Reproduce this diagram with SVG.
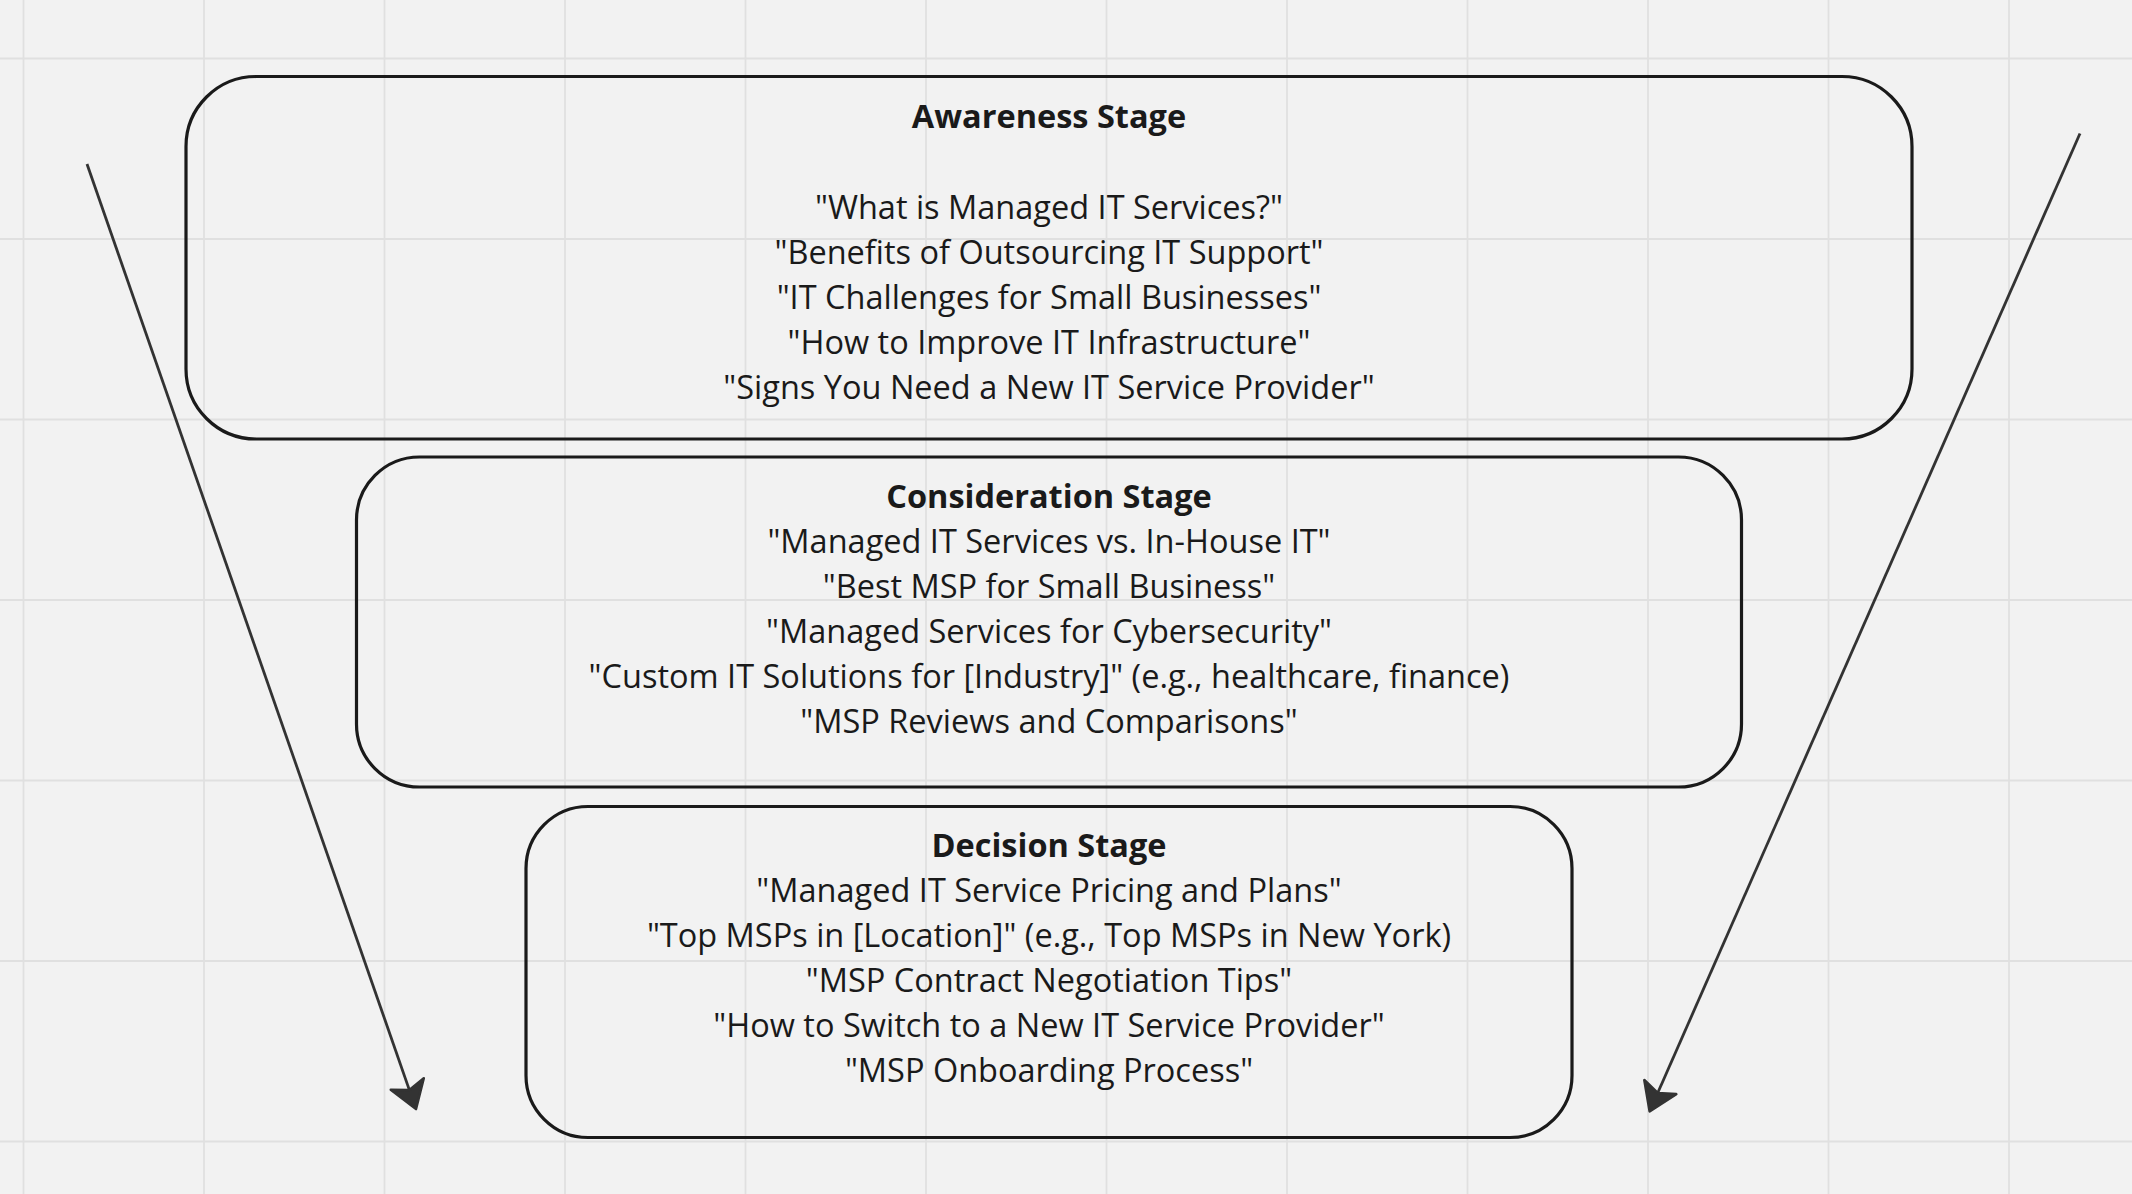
<svg xmlns="http://www.w3.org/2000/svg" width="2132" height="1194" viewBox="0 0 2132 1194">
<style>
  .grid line { stroke: #e0e0e0; stroke-width: 1.8; }
  .box { fill: none; stroke: #1a1a1a; stroke-width: 3.2; }
  .t { font-family: "Open Sans", "Liberation Sans", sans-serif; font-size: 32.5px; fill: #1a1a1a; text-anchor: middle; }
  .h { font-weight: 700; }
  .conn { stroke: #333333; stroke-width: 2.8; fill: none; marker-end: url(#arrow); }
</style>
<defs>
  <marker id="arrow" markerUnits="userSpaceOnUse" markerWidth="44" markerHeight="44" viewBox="-3 -17 26 34" refX="5" refY="0" orient="auto">
    <path d="M20.5,0 L0,-13.5 L5,0 L0,13.5 Z" fill="#333333" stroke="#333333" stroke-width="2" stroke-linejoin="round"/>
  </marker>
</defs>
<rect x="0" y="0" width="2132" height="1194" fill="#f2f2f2"/>
<g class="grid">
  <line x1="23.5" y1="0" x2="23.5" y2="1194"/>
  <line x1="204" y1="0" x2="204" y2="1194"/>
  <line x1="384.5" y1="0" x2="384.5" y2="1194"/>
  <line x1="565" y1="0" x2="565" y2="1194"/>
  <line x1="745.5" y1="0" x2="745.5" y2="1194"/>
  <line x1="926" y1="0" x2="926" y2="1194"/>
  <line x1="1106.5" y1="0" x2="1106.5" y2="1194"/>
  <line x1="1287" y1="0" x2="1287" y2="1194"/>
  <line x1="1467.5" y1="0" x2="1467.5" y2="1194"/>
  <line x1="1648" y1="0" x2="1648" y2="1194"/>
  <line x1="1828.5" y1="0" x2="1828.5" y2="1194"/>
  <line x1="2009" y1="0" x2="2009" y2="1194"/>
  <line x1="0" y1="58.5" x2="2132" y2="58.5"/>
  <line x1="0" y1="239" x2="2132" y2="239"/>
  <line x1="0" y1="419.5" x2="2132" y2="419.5"/>
  <line x1="0" y1="600" x2="2132" y2="600"/>
  <line x1="0" y1="780.5" x2="2132" y2="780.5"/>
  <line x1="0" y1="961" x2="2132" y2="961"/>
  <line x1="0" y1="1141.5" x2="2132" y2="1141.5"/>
</g>
<g id="awareness">
  <rect class="box" x="186" y="76.5" width="1726" height="362.5" rx="70" ry="70"/>
  <text class="t h" x="1049" y="127.5">Awareness Stage</text>
  <text class="t" x="1049" y="218.5">"What is Managed IT Services?"</text>
  <text class="t" x="1049" y="263.5">"Benefits of Outsourcing IT Support"</text>
  <text class="t" x="1049" y="308.5">"IT Challenges for Small Businesses"</text>
  <text class="t" x="1049" y="353.5">"How to Improve IT Infrastructure"</text>
  <text class="t" x="1049" y="398.5">"Signs You Need a New IT Service Provider"</text>
</g>
<g id="consideration">
  <rect class="box" x="356.5" y="457" width="1385" height="330" rx="63" ry="63"/>
  <text class="t h" x="1049" y="507.5">Consideration Stage</text>
  <text class="t" x="1049" y="552.5">"Managed IT Services vs. In-House IT"</text>
  <text class="t" x="1049" y="597.5">"Best MSP for Small Business"</text>
  <text class="t" x="1049" y="642.5">"Managed Services for Cybersecurity"</text>
  <text class="t" x="1049" y="687.5">"Custom IT Solutions for [Industry]" (e.g., healthcare, finance)</text>
  <text class="t" x="1049" y="732.5">"MSP Reviews and Comparisons"</text>
</g>
<g id="decision">
  <rect class="box" x="526" y="806.5" width="1046" height="331" rx="62" ry="62"/>
  <text class="t h" x="1049" y="856.5">Decision Stage</text>
  <text class="t" x="1049" y="901.5">"Managed IT Service Pricing and Plans"</text>
  <text class="t" x="1049" y="946.5">"Top MSPs in [Location]" (e.g., Top MSPs in New York)</text>
  <text class="t" x="1049" y="991.5">"MSP Contract Negotiation Tips"</text>
  <text class="t" x="1049" y="1036.5">"How to Switch to a New IT Service Provider"</text>
  <text class="t" x="1049" y="1081.5">"MSP Onboarding Process"</text>
</g>
<g id="connectors">
  <line class="conn" x1="87" y1="164" x2="409.4" y2="1090.1"/>
  <line class="conn" x1="2080" y1="133.5" x2="1657.7" y2="1093"/>
</g>
</svg>
